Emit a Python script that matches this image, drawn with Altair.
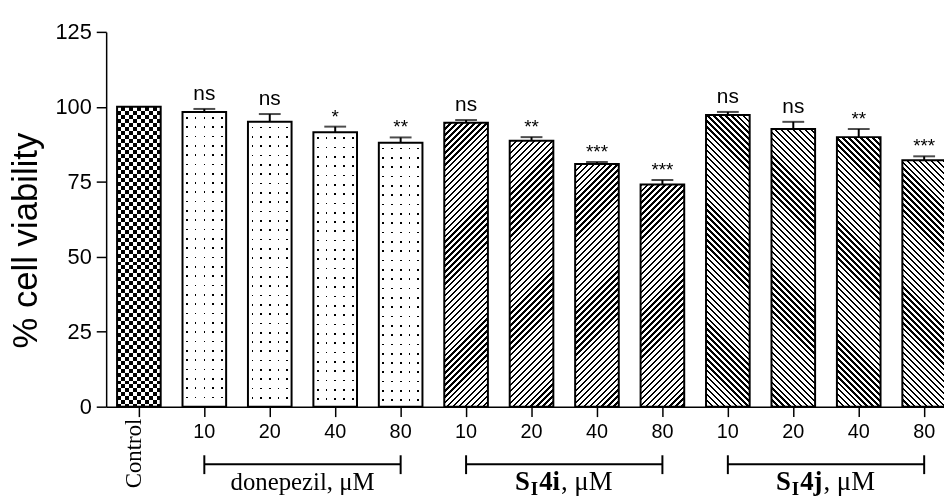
import math
import altair as alt
import pandas as pd

# ---------------- data ----------------
keys = ["Control", "D10", "D20", "D40", "D80", "I10", "I20", "I40", "I80",
        "J10", "J20", "J40", "J80"]
tick_labels = ["Control", "10", "20", "40", "80", "10", "20", "40", "80",
               "10", "20", "40", "80"]
groups = ["control", "donepezil", "donepezil", "donepezil", "donepezil",
          "S4i", "S4i", "S4i", "S4i", "S4j", "S4j", "S4j", "S4j"]
values = [100.0, 98.3, 95.0, 91.5, 88.0, 94.7, 88.7, 80.9, 74.1,
          97.3, 92.6, 89.9, 82.2]
errors = [0.0, 1.0, 2.6, 1.9, 1.8, 0.9, 1.2, 0.7, 1.5, 1.0, 2.4, 2.7, 1.3]
signif = ["", "ns", "ns", "*", "**", "ns", "**", "***", "***",
          "ns", "ns", "**", "***"]

bracket_groups = ["donepezil", "S4i", "S4j"]
bracket_start = ["D10", "I10", "J10"]
bracket_end = ["D80", "I80", "J80"]
bracket_mid = ["D20", "I20", "J20"]          # label anchored half a step right of this
group_label_plain = ["donepezil, \u03bcM"]
compound_parts = {"S4i": ["S", "I", "4i", ", \u03bcM"],
                  "S4j": ["S", "I", "4j", ", \u03bcM"]}

y_title = "% cell viability"
y_ticks = [0, 25, 50, 75, 100, 125]

# ---------------- layout / style ----------------
PLOT_W = 845
PLOT_H = 378
Y_MAX = 125
STEP = 66
BAR_W = 44
RANGE_END = STEP * len(keys)

df = pd.DataFrame({"key": keys, "label": tick_labels, "group": groups,
                   "value": values, "err": errors, "sig": signif})
df["upper"] = df["value"] + df["err"]

bdf = pd.DataFrame({"group": bracket_groups, "start": bracket_start,
                    "end": bracket_end, "mid": bracket_mid})
cap_df = pd.DataFrame({"key": bracket_start + bracket_end})

x_scale = alt.Scale(domain=keys, range=[0, RANGE_END],
                    paddingInner=1 / 3, paddingOuter=1 / 6)
y_scale = alt.Scale(domain=[0, Y_MAX], nice=False)

label_map = ", ".join(f"'{k}': '{l}'" for k, l in zip(keys, tick_labels) if k != "Control")
label_expr = "{" + label_map + "}[datum.value] || ''"

x_axis = alt.Axis(title=None, labelExpr=label_expr, labelFont="Liberation Sans",
                  labelFontSize=20, labelColor="black", labelPadding=5,
                  labelAngle=0, labelBaseline="top", labelAlign="center",
                  labelOverlap=False, tickSize=10, tickWidth=1.5,
                  tickColor="black", domainColor="black", domainWidth=1.5,
                  grid=False)
y_axis = alt.Axis(title=y_title, values=y_ticks, labelFont="Liberation Sans",
                  labelFontSize=22, labelColor="black", labelPadding=5,
                  tickSize=10, tickWidth=1.5, tickColor="black",
                  domainColor="black", domainWidth=1.5, grid=False,
                  titleFont="Liberation Sans", titleFontSize=35,
                  titleFontWeight="normal", titleColor="black",
                  titleAngle=270, titleX=-70, titleY=210, titleAlign="center",
                  titleBaseline="alphabetic")


def X(field="key"):
    return alt.X(f"{field}:N", scale=x_scale, axis=x_axis, sort=keys)


def Y(field):
    return alt.Y(f"{field}:Q", scale=y_scale, axis=y_axis)


def stripe_stops(length, period, width, start, on, off):
    ivs = []
    m = -2
    while True:
        a = start + m * period
        if a > length:
            break
        b = a + width
        lo, hi = max(a, 0.0), min(b, length)
        if hi > lo:
            ivs.append((lo, hi))
        m += 1
    pts = []
    prev = 0.0
    for a, b in ivs:
        if a > prev:
            pts += [(prev, off), (a, off)]
        pts += [(a, on), (b, on)]
        prev = b
    if prev < length:
        pts += [(prev, off), (length, off)]
    return [alt.GradientStop(color=c, offset=round(p / length, 5)) for p, c in pts]


def hatch_gradient(w, h, direction):
    L = w + h
    k = L / (w * w + h * h)
    stops = stripe_stops(L, 6.0, 2.4, 0.0, "black", "white")
    if direction == "/":
        return alt.LinearGradient(gradient="linear", stops=stops,
                                  x1=0, y1=0, x2=w * k, y2=h * k)
    return alt.LinearGradient(gradient="linear", stops=stops,
                              x1=0, y1=1, x2=w * k, y2=1 - h * k)


def lin(stops, vertical):
    if vertical:
        return alt.LinearGradient(gradient="linear", stops=stops, x1=0, y1=0, x2=0, y2=1)
    return alt.LinearGradient(gradient="linear", stops=stops, x1=0, y1=0, x2=1, y2=0)


layers = []
for k, g, v in zip(keys, groups, values):
    h = v * PLOT_H / Y_MAX
    base = alt.Chart(df).transform_filter(alt.datum.key == k)
    enc = dict(x=X(), y=Y("value"))
    if g == "control":
        a = lin(stripe_stops(BAR_W, 8, 4, 0, "black", "white"), False)
        b = lin(stripe_stops(h, 8, 4, 0, "white", "black"), True)
        layers.append(base.mark_bar(fill=a, strokeWidth=0).encode(**enc))
        layers.append(base.mark_bar(fill=b, strokeWidth=0, blend="difference").encode(**enc))
    elif g == "donepezil":
        a = lin(stripe_stops(BAR_W, 8.8, 1.7, 3.6, "black", "white"), False)
        b = lin(stripe_stops(h, 9.4, 1.7, 5.0, "rgba(255,255,255,0)", "white"), True)
        layers.append(base.mark_bar(fill=a, strokeWidth=0).encode(**enc))
        layers.append(base.mark_bar(fill=b, strokeWidth=0).encode(**enc))
    elif g == "S4i":
        layers.append(base.mark_bar(fill=hatch_gradient(BAR_W, h, "/"), strokeWidth=0).encode(**enc))
    else:
        layers.append(base.mark_bar(fill=hatch_gradient(BAR_W, h, "\\"), strokeWidth=0).encode(**enc))

# outlines
layers.append(alt.Chart(df).mark_bar(fill="transparent", stroke="black", strokeWidth=2)
              .encode(x=X(), y=Y("value")))

# error bars
eb = alt.Chart(df).transform_filter("datum.err > 0")
layers.append(eb.mark_rule(color="black", strokeWidth=2)
              .encode(x=X(), y=Y("value"), y2="upper:Q"))
layers.append(eb.mark_tick(color="black", size=22, thickness=2, orient="horizontal")
              .encode(x=X(), y=Y("upper")))

# significance labels
layers.append(alt.Chart(df).transform_filter("datum.sig == 'ns'")
              .mark_text(font="Liberation Sans", fontSize=21, dy=-9,
                         baseline="alphabetic", color="black")
              .encode(x=X(), y=Y("upper"), text="sig:N"))
layers.append(alt.Chart(df).transform_filter("datum.sig != 'ns' && datum.sig != ''")
              .mark_text(font="Liberation Sans", fontSize=19, dy=-4,
                         baseline="alphabetic", color="black")
              .encode(x=X(), y=Y("upper"), text="sig:N"))

# Control label (rotated, serif)
layers.append(alt.Chart(df).transform_filter("datum.key == 'Control'")
              .mark_text(font="Liberation Serif", fontSize=23, angle=270,
                         align="right", baseline="alphabetic", dy=2, color="black")
              .encode(x=X(), y=alt.value(390), text="label:N"))

# group brackets
layers.append(alt.Chart(bdf).mark_rule(color="black", strokeWidth=2)
              .encode(x=X("start"), x2="end:N", y=alt.value(436)))
layers.append(alt.Chart(cap_df).mark_rule(color="black", strokeWidth=2)
              .encode(x=X(), y=alt.value(427), y2=alt.value(446)))

# group labels
plain = pd.DataFrame({"key": [bracket_mid[0]], "text": group_label_plain})
layers.append(alt.Chart(plain).mark_text(font="Liberation Serif", fontSize=25,
                                         align="center", baseline="alphabetic",
                                         dx=STEP / 2, color="black")
              .encode(x=X(), y=alt.value(462), text="text:N"))

FS, SUB = 27, 19
adv_bold = {"S": 0.556, "I": 0.389, "4": 0.5, "i": 0.278, "j": 0.333}
adv_reg = {",": 0.25, " ": 0.25, "\u03bc": 0.576, "M": 0.889}
for gname, mid in zip(bracket_groups[1:], bracket_mid[1:]):
    parts = compound_parts[gname]
    widths = [adv_bold["S"] * FS + 1,
              adv_bold["I"] * SUB + 1,
              sum(adv_bold[c] for c in parts[2]) * FS + 1,
              sum(adv_reg[c] for c in parts[3]) * FS]
    total = sum(widths)
    x0 = STEP / 2 - total / 2
    pdata = pd.DataFrame({"key": [mid] * 4, "text": parts})
    offs = [x0, x0 + widths[0], x0 + widths[0] + widths[1],
            x0 + widths[0] + widths[1] + widths[2]]
    styles = [(FS, "bold", 0), (SUB, "bold", 5), (FS, "bold", 0), (FS, "normal", 0)]
    for i, (fs, fw, ddy) in enumerate(styles):
        layers.append(alt.Chart(pdata).transform_filter(alt.datum.text == parts[i])
                      .mark_text(font="Liberation Serif", fontSize=fs, fontWeight=fw,
                                 align="left", baseline="alphabetic",
                                 dx=offs[i], dy=ddy, color="black")
                      .encode(x=X(), y=alt.value(462), text="text:N"))

chart = alt.layer(*layers).properties(
    width=PLOT_W, height=PLOT_H,
    autosize=alt.AutoSizeParams(type="none"),
    padding={"left": 99, "top": 22, "right": 0, "bottom": 89},
    background="white",
).configure_view(stroke=None)

chart.save("out.html", embed_options={"renderer": "svg", "actions": False})
